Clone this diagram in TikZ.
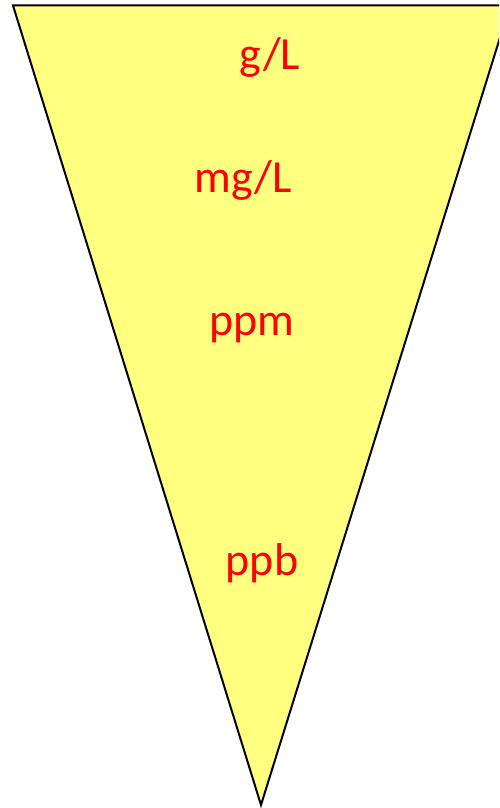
\documentclass[tikz,border=0pt]{standalone}
\usepackage{fontspec}
\setmainfont{Carlito}
\definecolor{funnelyellow}{RGB}{255,255,128}
\definecolor{labelred}{RGB}{255,0,0}
\begin{document}
\begin{tikzpicture}[x=1pt,y=-1pt,
  unitlabel/.style={text=labelred,font=\fontsize{46}{54}\selectfont,anchor=base,inner sep=0pt},
  funnel/.style={fill=funnelyellow,draw=black,line width=2pt,line join=miter}]
\useasboundingbox (0,0) rectangle (499,808);
\clip (0,0) rectangle (499,808);
\coordinate (tl) at (13,5.5);
\coordinate (tr) at (510,5.5);
\coordinate (bt) at (261,805);
\draw[funnel] (tl) -- (tr) -- (bt) -- cycle;
\node[unitlabel] (gL) at (270,70) {g/L};
\node[unitlabel] (mgL) at (243,192) {mg/L};
\node[unitlabel] (ppm) at (252,335) {ppm};
\node[unitlabel] (ppb) at (262,575) {ppb};
\end{tikzpicture}
\end{document}
